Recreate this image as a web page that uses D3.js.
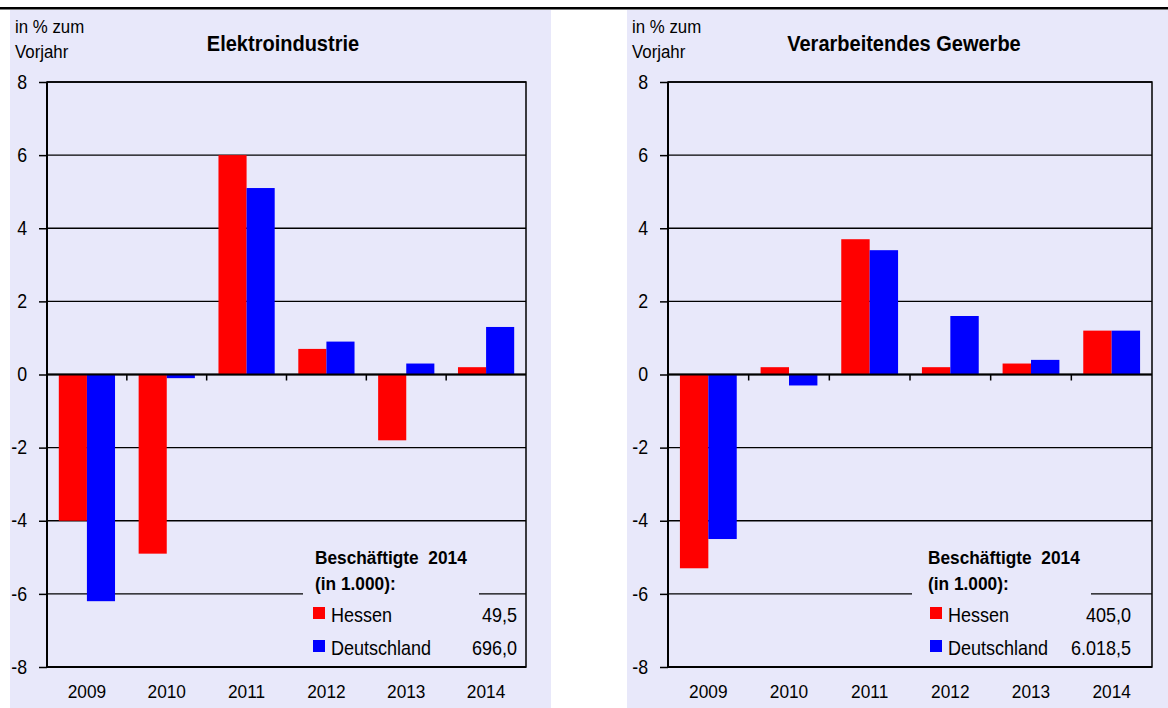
<!DOCTYPE html>
<html><head><meta charset="utf-8">
<script src="https://cdn.jsdelivr.net/npm/d3@7"></script>
<style>
body{margin:0;background:#fff}
svg{display:block}
text{font-family:"Liberation Sans",Arial,sans-serif;fill:#000}
</style>
</head><body>
<svg id="c" width="1168" height="708"></svg>
<script>
// ---- data ----
const years = ["2009","2010","2011","2012","2013","2014"];
const seriesNames = ["Hessen","Deutschland"];
const elektroHessen = [-4.0, -4.9, 6.0, 0.7, -1.8, 0.2];
const elektroDeutschland = [-6.2, -0.1, 5.1, 0.9, 0.3, 1.3];
const verarbHessen = [-5.3, 0.2, 3.7, 0.2, 0.3, 1.2];
const verarbDeutschland = [-4.5, -0.3, 3.4, 1.6, 0.4, 1.2];
const yTickValues = [-8,-6,-4,-2,0,2,4,6,8];
const titles = ["Elektroindustrie","Verarbeitendes Gewerbe"];
const empHessen = ["49,5","405,0"];
const empDeutschland = ["696,0","6.018,5"];
const unitLines = ["in % zum","Vorjahr"];
const legendTitleLines = ["Beschäftigte  2014","(in 1.000):"];

const panels = [
  {title:titles[0], values:{Hessen:elektroHessen, Deutschland:elektroDeutschland}, emp:{Hessen:empHessen[0], Deutschland:empDeutschland[0]}},
  {title:titles[1], values:{Hessen:verarbHessen, Deutschland:verarbDeutschland}, emp:{Hessen:empHessen[1], Deutschland:empDeutschland[1]}}
];

// ---- styling / layout ----
const FONT = '"Liberation Sans",Arial,sans-serif';
const SX = 0.91;          // slight horizontal condensing of text
const colors = {Hessen:"#ff0000", Deutschland:"#0000ff"};
const bg = "#e8e8fa";
const layouts = [
  {bgX:10, bgW:541, left:47, right:526, legBox:[303,479], legTitleX:315, legSqX:313, legValX:517},
  {bgX:627, bgW:541, left:668, right:1152, legBox:[912,1091], legTitleX:928, legSqX:930, legValX:1131}
];
const plotTop = 82, plotBottom = 667;

function condense(sel){
  sel.each(function(){
    const t = d3.select(this);
    const x = +(t.attr("x") || 0);
    t.attr("x", x / SX).attr("transform", `scale(${SX},1)`);
  });
}

const svg = d3.select("#c");
svg.append("line").attr("x1",0).attr("x2",1168).attr("y1",8.3).attr("y2",8.3)
  .attr("stroke","#000").attr("stroke-width",2.5);

panels.forEach((p,i)=>{
  const L = layouts[i];
  const g = svg.append("g");
  g.append("rect").attr("x",L.bgX).attr("y",10).attr("width",L.bgW).attr("height",698).attr("fill",bg);

  const x0 = d3.scaleBand().domain(years).range([L.left, L.right]);
  const x1 = d3.scaleBand().domain(seriesNames).range([0, x0.bandwidth()]).paddingOuter(0.42);
  const y = d3.scaleLinear().domain([-8, 8]).range([plotBottom, plotTop]);

  // gridlines
  g.selectAll("line.grid").data(yTickValues).join("line").attr("class","grid")
    .attr("x1",L.left).attr("x2",L.right).attr("y1",d=>y(d)).attr("y2",d=>y(d))
    .attr("stroke","#000").attr("stroke-width",1.4);

  // legend title box (hides gridline)
  g.append("rect").attr("x",L.legBox[0]).attr("y",528).attr("width",L.legBox[1]-L.legBox[0]).attr("height",72).attr("fill",bg);

  // bars
  const flat = [];
  years.forEach((yr,j)=>seriesNames.forEach(s=>flat.push({yr, s, v:p.values[s][j]})));
  g.selectAll("rect.bar").data(flat).join("rect").attr("class","bar")
    .attr("x",d=>x0(d.yr)+x1(d.s)).attr("width",x1.bandwidth())
    .attr("y",d=>y(Math.max(0,d.v))).attr("height",d=>Math.abs(y(d.v)-y(0)))
    .attr("fill",d=>colors[d.s]);

  // zero line
  g.append("line").attr("x1",L.left).attr("x2",L.right).attr("y1",y(0)).attr("y2",y(0))
    .attr("stroke","#000").attr("stroke-width",1.8);
  // category separators on zero line
  g.selectAll("line.sep").data(years.slice(1)).join("line").attr("class","sep")
    .attr("x1",d=>x0(d)).attr("x2",d=>x0(d)).attr("y1",y(0)).attr("y2",y(0)+6)
    .attr("stroke","#000").attr("stroke-width",1.5);

  // frame
  g.append("rect").attr("x",L.left).attr("y",plotTop).attr("width",L.right-L.left).attr("height",plotBottom-plotTop)
    .attr("fill","none").attr("stroke","#000").attr("stroke-width",1.5);
  g.append("line").attr("x1",L.left).attr("x2",L.left).attr("y1",plotTop).attr("y2",plotBottom).attr("stroke","#000").attr("stroke-width",2);
  g.append("line").attr("x1",L.left).attr("x2",L.right).attr("y1",plotBottom).attr("y2",plotBottom).attr("stroke","#000").attr("stroke-width",2);

  // y axis
  const ya = g.append("g").attr("transform",`translate(${L.left},0)`)
    .call(d3.axisLeft(y).tickValues(yTickValues).tickSize(8).tickPadding(12).tickFormat(d=>String(d)));
  ya.select(".domain").remove();
  ya.selectAll(".tick line").attr("stroke","#000").attr("stroke-width",1.5);
  ya.selectAll("text").attr("font-size",19.5).attr("font-family",FONT).call(condense);

  // x axis labels
  const xa = g.append("g").attr("transform",`translate(0,${plotBottom})`)
    .call(d3.axisBottom(x0).tickSize(0).tickPadding(18));
  xa.select(".domain").remove();
  xa.selectAll("text").attr("font-size",19).attr("font-family",FONT).call(condense);

  // title
  g.append("text").attr("x",L.left+236).attr("y",51).attr("text-anchor","middle")
    .attr("font-size",22).attr("font-weight","bold").text(p.title).call(condense);
  // unit
  g.selectAll("text.unit").data(unitLines).join("text").attr("class","unit")
    .attr("x",L.bgX+5).attr("y",(d,k)=>33+k*25).attr("font-size",18.5).text(d=>d).call(condense);

  // legend
  g.selectAll("text.lt").data(legendTitleLines).join("text").attr("class","lt")
    .attr("x",L.legTitleX).attr("y",(d,k)=>564+k*26).attr("font-size",19).attr("font-weight","bold")
    .style("white-space","pre").text(d=>d).call(condense);
  const le = g.selectAll("g.le").data(seriesNames).join("g").attr("class","le")
    .attr("transform",(d,k)=>`translate(0,${k*33})`);
  le.append("rect").attr("x",L.legSqX).attr("y",607).attr("width",12).attr("height",12).attr("fill",d=>colors[d]);
  le.append("text").attr("x",L.legSqX+18).attr("y",622).attr("font-size",19.8).text(d=>d).call(condense);
  le.append("text").attr("x",L.legValX).attr("y",622).attr("font-size",19.8).attr("text-anchor","end").text(d=>p.emp[d]).call(condense);
});
</script>
</body></html>
